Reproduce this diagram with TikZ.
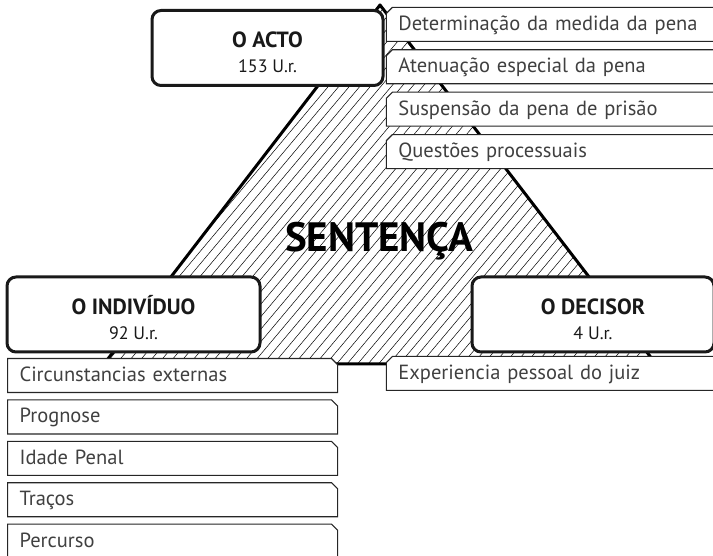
\documentclass[tikz,border=0pt]{standalone}
\usepackage{fontspec}
\setmainfont{PT Sans}
\usepackage{tikz}
\usetikzlibrary{shapes.misc}
\usetikzlibrary{positioning}
\tikzset{%
  base/.style = {rectangle, line width=3pt, draw=black!90, fill=white, minimum height=75pt, rounded corners=9pt, align=center, text=black!90, font=\fontsize{22}{25}\selectfont},
  item/.style = {chamfered rectangle, chamfered rectangle xsep=3pt, chamfered rectangle ysep=3pt, draw=black!85, line width=1.1pt, fill=white, minimum height=34pt, inner xsep=9pt, inner ysep=0pt, text height=15pt, text depth=3pt, align=left, text=black!75, font=\fontsize{20.5}{24}\selectfont},
  hatch/.style = {line width=0.5pt}
}
\newcommand{\polestrut}{\rule{0pt}{25pt}}

\begin{document}
\begin{tikzpicture}[x=1pt, y=-1pt]
  \useasboundingbox (0,0) rectangle (713,556);

  % triangle with hatching
  \coordinate (apex) at (380,5);
  \coordinate (corner-l) at (104,364);
  \coordinate (corner-r) at (656,364);
  \begin{scope}
    \clip (apex) -- (corner-l) -- (corner-r) -- cycle;
    \foreach \x in {-330,-319.5,...,700}
      \draw[hatch] (\x,370) -- ++(311,-370);
  \end{scope}
  \draw[line width=3pt, line join=round] (apex) -- (corner-l) -- (corner-r) -- cycle;

  \node (sentenca) at (379,241) {\fontsize{41}{41}\selectfont\bfseries SENTENÇA};

  % the three poles
  \node (acto) [base, minimum width=231pt] at (267.5,48) {\polestrut\textbf{O ACTO}\\{\fontsize{18}{20}\selectfont 153 U.r.}};
  \node (individuo) [base, minimum width=253pt] at (133.5,314.5) {\polestrut\textbf{O INDIVÍDUO}\\{\fontsize{18}{20}\selectfont 92 U.r.}};
  \node (decisor) [base, minimum width=242pt] at (593,314.5) {\polestrut\textbf{O DECISOR}\\{\fontsize{18}{20}\selectfont 4 U.r.}};

  % items of the act
  \node (medida) [item, chamfered rectangle corners=north west, text width=330pt, anchor=north west] at (389,10) {Determinação da medida da pena};
  \node (atenuacao) [item, chamfered rectangle corners=north west, text width=330pt, below=7.3pt of medida] {Atenuação especial da pena};
  \node (suspensao) [item, chamfered rectangle corners=north west, text width=330pt, below=7.3pt of atenuacao] {Suspensão da pena de prisão};
  \node (questoes) [item, chamfered rectangle corners=north west, text width=330pt, below=7.3pt of suspensao] {Questões processuais};

  % items of the individual
  \node (circunst) [item, chamfered rectangle corners=north east, text width=306pt, anchor=north west] at (7,358) {Circunstancias externas};
  \node (prognose) [item, chamfered rectangle corners=north east, text width=306pt, below=6.3pt of circunst] {Prognose};
  \node (idade) [item, chamfered rectangle corners=north east, text width=306pt, below=6.3pt of prognose] {Idade Penal};
  \node (tracos) [item, chamfered rectangle corners=north east, text width=306pt, below=6.3pt of idade] {Traços};
  \node (percurso) [item, chamfered rectangle corners=north east, text width=306pt, below=6.3pt of tracos] {Percurso};

  % item of the judge
  \node (experiencia) [item, chamfered rectangle corners=north west, text width=330pt, anchor=north west] at (389,359) {Experiencia pessoal do juiz};
\end{tikzpicture}
\end{document}
